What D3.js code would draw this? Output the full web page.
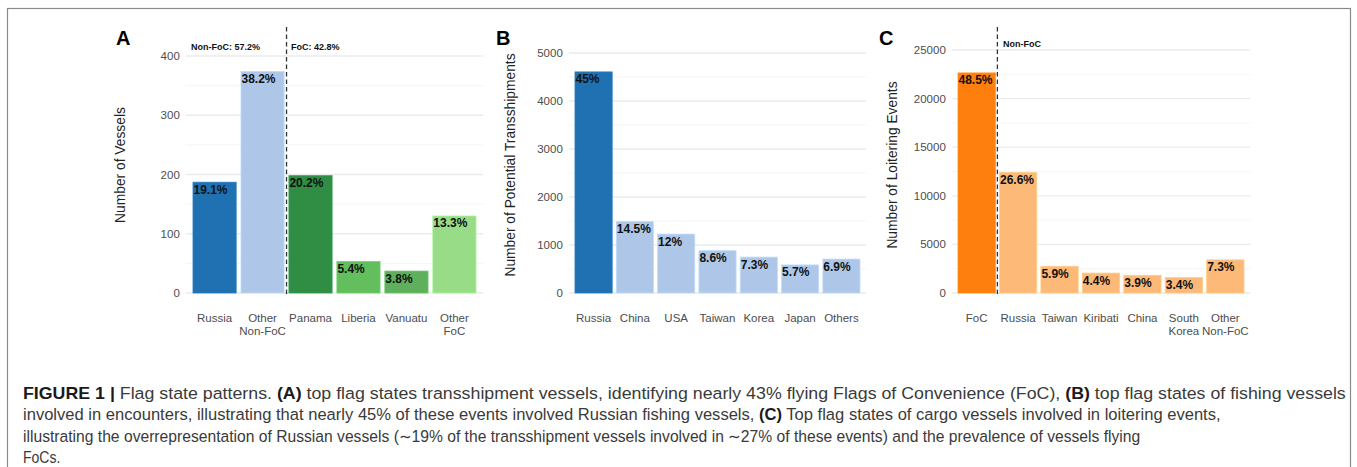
<!DOCTYPE html>
<meta charset="utf-8">
<style>
    body { margin: 0; background: #fff; }
    text { font-family: 'Liberation Sans', Arial, sans-serif; }
    .tick-label { fill: #4d4d4d; font-size: 11.5px; }
    .bar-label { font-weight: bold; font-size: 12px; fill: #111; }
    .axis-title { font-size: 13.8px; fill: #222; }
    .panel-letter { font-weight: bold; font-size: 20px; fill: #000; }
    .group-label { font-weight: bold; font-size: 9px; fill: #111; }
    .caption { font-size: 16.5px; fill: #3a3a3a; }
</style>
<svg width="1357" height="467"></svg>
<script src="https://cdnjs.cloudflare.com/ajax/libs/d3/7.8.5/d3.min.js"></script>
<script>
    // panel A - transshipment vessels
    var catsA = [["Russia"], ["Other", "Non-FoC"], ["Panama"], ["Liberia"], ["Vanuatu"], ["Other", "FoC"]];
    var valsA = [187, 374, 198, 53, 37, 130];
    var pctA = ["19.1%", "38.2%", "20.2%", "5.4%", "3.8%", "13.3%"];
    var colsA = ["#1f71b2", "#aec7e8", "#2f8e44", "#63be5e", "#5fb05c", "#98dc88"];
    var ticksA = [0, 100, 200, 300, 400];

    // panel B - potential transshipments
    var catsB = [["Russia"], ["China"], ["USA"], ["Taiwan"], ["Korea"], ["Japan"], ["Others"]];
    var valsB = [4606, 1490, 1228, 882, 748, 585, 707];
    var pctB = ["45%", "14.5%", "12%", "8.6%", "7.3%", "5.7%", "6.9%"];
    var colsB = ["#1f71b2", "#aec7e8", "#aec7e8", "#aec7e8", "#aec7e8", "#aec7e8", "#aec7e8"];
    var ticksB = [0, 1000, 2000, 3000, 4000, 5000];

    // panel C - loitering events
    var catsC = [["FoC"], ["Russia"], ["Taiwan"], ["Kiribati"], ["China"], ["South", "Korea"], ["Other", "Non-FoC"]];
    var valsC = [22640, 12410, 2750, 2050, 1820, 1590, 3410];
    var pctC = ["48.5%", "26.6%", "5.9%", "4.4%", "3.9%", "3.4%", "7.3%"];
    var colsC = ["#ff7f0e", "#fdb978", "#fdb978", "#fdb978", "#fdb978", "#fdb978", "#fdb978"];
    var ticksC = [0, 5000, 10000, 15000, 20000, 25000];

    var captionLines = [
        [["FIGURE 1 | ", true], ["Flag state patterns. ", false], ["(A)", true], [" top flag states transshipment vessels, identifying nearly 43% flying Flags of Convenience (FoC), ", false], ["(B)", true], [" top flag states of fishing vessels", false]],
        [["involved in encounters, illustrating that nearly 45% of these events involved Russian fishing vessels, ", false], ["(C)", true], [" Top flag states of cargo vessels involved in loitering events,", false]],
        [["illustrating the overrepresentation of Russian vessels (\u223c19% of the transshipment vessels involved in \u223c27% of these events) and the prevalence of vessels flying", false]],
        [["FoCs.", false]]
    ];
    var captionEnds = [1347, 1222, 1142, null];

    var svg = d3.select("svg");

    // frame
    svg.append("rect")
        .attr("x", 7.5).attr("y", 8.5)
        .attr("width", 1343).attr("height", 500)
        .attr("fill", "none").attr("stroke", "#8a8a8a").attr("stroke-width", 1.2);

    function drawPanel(p) {
        var g = svg.append("g");
        var n = p.cats.length;
        var x = d3.scaleBand()
            .domain(d3.range(n))
            .range(p.xr)
            .paddingInner(0.1)
            .paddingOuter(0.15);
        var y = d3.scaleLinear()
            .domain([0, p.ticks[p.ticks.length - 1]])
            .range([293, 56 - (p.topShift || 0)]);

        // minor gridlines
        var step = p.ticks[1] - p.ticks[0];
        var minor = p.ticks.slice(0, -1).map(function (t) { return t + step / 2; });
        g.selectAll(".minor").data(minor).enter().append("line")
            .attr("x1", p.xr[0]).attr("x2", p.xr[1])
            .attr("y1", function (d) { return y(d); })
            .attr("y2", function (d) { return y(d); })
            .attr("stroke", "#f2f2f2").attr("stroke-width", 0.8);

        g.selectAll(".major").data(p.ticks).enter().append("line")
            .attr("x1", p.xr[0]).attr("x2", p.xr[1])
            .attr("y1", function (d) { return y(d); })
            .attr("y2", function (d) { return y(d); })
            .attr("stroke", "#ebebeb").attr("stroke-width", 1.3);

        g.selectAll(".ytick").data(p.ticks).enter().append("text")
            .attr("class", "tick-label")
            .attr("x", p.xr[0] - 6)
            .attr("y", function (d) { return y(d); })
            .attr("dy", "0.35em")
            .attr("text-anchor", "end")
            .text(function (d) { return d; });

        g.append("text")
            .attr("class", "axis-title")
            .attr("transform", "translate(" + p.titleX + ",165) rotate(-90)")
            .attr("text-anchor", "middle")
            .attr("dy", "0.35em")
            .text(p.title);

        var bars = g.selectAll(".bar").data(p.vals).enter();
        bars.append("rect")
            .attr("x", function (d, i) { return x(i); })
            .attr("y", function (d) { return y(d); })
            .attr("width", x.bandwidth())
            .attr("height", function (d) { return y(0) - y(d); })
            .attr("fill", function (d, i) { return p.cols[i]; })
            .attr("stroke", function (d, i) { return d3.color(p.cols[i]).brighter(0.3); })
            .attr("stroke-width", 0.8);

        bars.append("text")
            .attr("class", "bar-label")
            .attr("x", function (d, i) { return x(i) + 0.5; })
            .attr("y", function (d) { return y(d) + 11.5; })
            .text(function (d, i) { return p.pct[i]; });

        g.selectAll(".xlab").data(p.cats).enter().append("text")
            .attr("class", "tick-label")
            .attr("text-anchor", "middle")
            .attr("x", function (d, i) { return x(i) + x.bandwidth() / 2; })
            .attr("y", 322)
            .selectAll("tspan").data(function (d) { return d; }).enter().append("tspan")
            .attr("x", function () { return d3.select(this.parentNode).attr("x"); })
            .attr("dy", function (d, i) { return i ? 12.5 : 0; })
            .text(function (d) { return d; });

        if (p.split != null) {
            var sx = x(p.split) - x.step() * 0.05;
            g.append("line")
                .attr("x1", sx).attr("x2", sx)
                .attr("y1", 27).attr("y2", 296)
                .attr("stroke", "#333").attr("stroke-width", 1.3)
                .attr("stroke-dasharray", "4.5,3");
        }

        (p.groups || []).forEach(function (gr) {
            g.append("text").attr("class", "group-label")
                .attr("x", gr[0]).attr("y", gr[1]).text(gr[2]);
        });

        g.append("text").attr("class", "panel-letter")
            .attr("x", p.letterX).attr("y", 45).text(p.letter);
    }

    drawPanel({
        cats: catsA, vals: valsA, pct: pctA, cols: colsA, ticks: ticksA,
        xr: [185.8, 483.2], title: "Number of Vessels", titleX: 120,
        split: 2, letter: "A", letterX: 116,
        groups: [[191, 50, "Non-FoC: 57.2%"], [291, 50, "FoC: 42.8%"]]
    });

    drawPanel({
        cats: catsB, vals: valsB, pct: pctB, cols: colsB, ticks: ticksB,
        xr: [568.8, 866.2], title: "Number of Potential Transshipments", titleX: 510,
        split: null, letter: "B", letterX: 496, topShift: 3
    });

    drawPanel({
        cats: catsC, vals: valsC, pct: pctC, cols: colsC, ticks: ticksC,
        xr: [951.8, 1250.2], title: "Number of Loitering Events", titleX: 892,
        split: 1, letter: "C", letterX: 879, topShift: 6,
        groups: [[1003, 47, "Non-FoC"]]
    });

    // caption
    var baselines = [398.5, 420, 441.5, 463];
    captionLines.forEach(function (line, li) {
        var t = svg.append("text").attr("class", "caption")
            .attr("transform", "translate(23," + baselines[li] + ")");
        line.forEach(function (seg) {
            t.append("tspan")
                .attr("font-weight", seg[1] ? "bold" : null)
                .attr("fill", seg[1] ? "#1a1a1a" : null)
                .text(seg[0]);
        });
        var w = t.node().getComputedTextLength();
        var target = captionEnds[li] ? captionEnds[li] - 23 : null;
        var s = target ? target / w : 0.85;
        t.attr("transform", "translate(23," + baselines[li] + ") scale(" + s + ",1)");
    });
</script>
